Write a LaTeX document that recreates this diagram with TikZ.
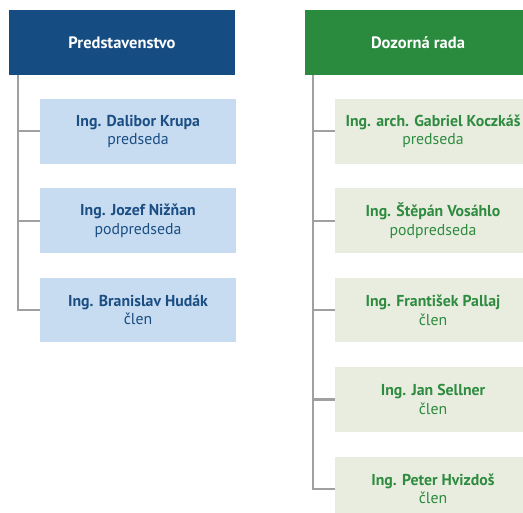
\documentclass[tikz,border=0pt]{standalone}
\usepackage{fontspec}
\setmainfont{PT Sans}
\usetikzlibrary{positioning}

\begin{document}
\begin{tikzpicture}[x=1pt, y=-1pt]
% Define colors
\definecolor{boardcolor}{RGB}{21, 76, 130}
\definecolor{boardlight}{RGB}{199, 220, 241}
\definecolor{boardtext}{RGB}{27, 78, 131}
\definecolor{supercolor}{RGB}{42, 138, 62}
\definecolor{superlight}{RGB}{233, 237, 224}
\definecolor{supertext}{RGB}{46, 139, 63}
\definecolor{linkcolor}{RGB}{160, 160, 160}

\tikzset{
  head/.style={minimum width=226, minimum height=64.6, inner sep=0pt, text=white,
    font=\fontsize{16.5}{18}\selectfont\bfseries},
  member/.style={minimum width=196, minimum height=64.6, inner sep=0pt, align=center,
    font=\fontsize{15.8}{18.5}\selectfont},
  link/.style={line width=2.3pt, draw=linkcolor}
}

\useasboundingbox (0,0) rectangle (523,513);
\clip (0,0) rectangle (523,513);

% Predstavenstvo
\node[head, fill=boardcolor] (board) at (122,42.3) {Predstavenstvo};
\foreach \who/\role [count=\i] in {Ing. Dalibor Krupa/predseda, Ing. Jozef Nižňan/podpredseda,
    Ing. Branislav Hudák/člen} {
  \node[member, fill=boardlight, text=boardtext] (b\i) at (138,{131.3+89.4*(\i-1)}) {\textbf{\who}\\\role};
  \draw[link] ([xshift=9.5]board.south west) |- (b\i.west);
}

% Dozorna rada
\node[head, fill=supercolor] (super) at (418,42.3) {Dozorná rada};
\foreach \who/\role [count=\i] in {Ing. arch. Gabriel Koczkáš/predseda, Ing. Štěpán Vosáhlo/podpredseda,
    Ing. František Pallaj/člen, Ing. Jan Sellner/člen, Ing. Peter Hvizdoš/člen} {
  \node[member, fill=superlight, text=supertext] (s\i) at (433,{131.3+89.4*(\i-1)}) {\textbf{\who}\\\role};
  \draw[link] ([xshift=8.3]super.south west) |- (s\i.west);
}
\end{tikzpicture}
\end{document}
